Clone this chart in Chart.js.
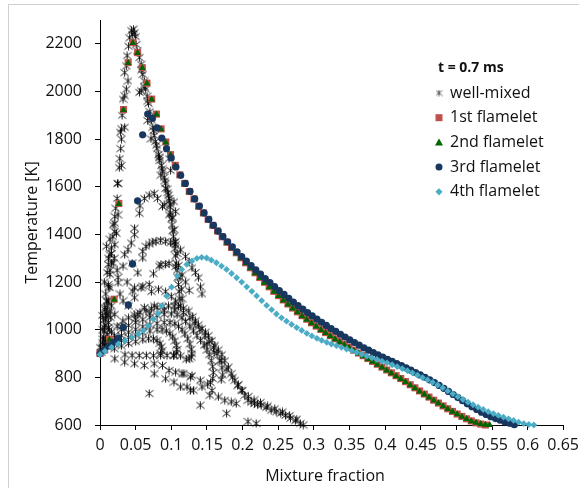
<!DOCTYPE html>
<html>
<head>
<meta charset="utf-8">
<script src="https://cdn.jsdelivr.net/npm/chart.js@4.4.1/dist/chart.umd.min.js"></script>
<style>
  html, body { margin: 0; padding: 0; background: #fff; overflow: hidden; }
  #marco { position: absolute; left: 8px; top: 4px; width: 600px; height: 500px; border: 1px solid #d0d0d0; box-sizing: border-box; }
  #lienzo { position: absolute; left: 0; top: 0; width: 579px; height: 488px; }
</style>
</head>
<body>
<div id="marco"></div>
<canvas id="lienzo" width="579" height="488"></canvas>
<script>
// Datos: [fraccion de mezcla, temperatura K]
const ticksX = [0, 0.05, 0.1, 0.15, 0.2, 0.25, 0.3, 0.35, 0.4, 0.45, 0.5, 0.55, 0.6, 0.65];
const ticksY = [600, 800, 1000, 1200, 1400, 1600, 1800, 2000, 2200];

const bienMezclado = [
  // subida hasta el pico
  [0.004,960],[0.006,1010],[0.008,1060],[0.010,1120],[0.012,1180],[0.014,1250],[0.016,1320],[0.018,1390],
  [0.0207,1475],[0.022,1510],[0.024,1551],[0.0253,1614],[0.027,1680],[0.0277,1718],[0.029,1760],[0.030,1800],
  [0.0286,1829],[0.030,1843],[0.0346,1850],[0.031,1900],[0.0323,1968],[0.0346,1982],[0.0369,2010],[0.0392,2044],
  [0.0346,2079],[0.0369,2107],[0.038,2150],[0.040,2190],[0.0415,2225],[0.0452,2239],[0.0484,2246],[0.047,2262],
  [0.0507,2197],[0.052,2170],[0.0553,2142],[0.044,2255],[0.050,2230],
  // bajada densa junto a los flamelets
  [0.0576,2114],[0.060,2072],[0.0622,2044],[0.064,2010],[0.066,1980],[0.068,1950],[0.070,1915],[0.072,1880],
  [0.074,1850],[0.076,1815],[0.078,1790],[0.080,1760],[0.082,1735],[0.084,1710],[0.086,1690],[0.088,1665],
  [0.090,1640],[0.092,1615],[0.094,1590],[0.096,1565],[0.097,1540],[0.098,1515],[0.099,1490],[0.100,1465],
  [0.101,1440],[0.102,1415],[0.103,1390],[0.104,1365],[0.105,1340],[0.106,1310],[0.107,1280],[0.108,1250],
  [0.109,1220],[0.110,1190],[0.111,1160],[0.112,1130],[0.113,1100],
  [0.058,2090],[0.062,2020],[0.067,1960],[0.071,1895],[0.075,1835],[0.079,1775],[0.083,1720],[0.087,1675],
  [0.091,1625],[0.095,1575],[0.099,1525],[0.102,1470],[0.104,1420],[0.106,1370],[0.108,1320],[0.110,1270],
  [0.112,1220],[0.114,1170],[0.115,1130],
  [0.0553,1996],[0.0576,2003],[0.0668,1878],[0.0715,1801],[0.083,1725],[0.0853,1649],[0.092,1593],[0.097,1551],
  [0.090,1524],[0.097,1482],[0.1037,1537],[0.106,1496],[0.0968,1718],[0.099,1669],
  // zona izquierda dispersa
  [0.030,1690],[0.0244,1614],[0.0253,1482],[0.0207,1447],[0.023,1405],[0.0184,1440],[0.0207,1412],[0.0207,1357],
  [0.0138,1315],[0.016,1343],[0.016,1280],[0.0115,1274],[0.0184,1280],[0.0138,1232],[0.0115,1190],[0.0253,1197],
  [0.0253,1220],[0.0138,1176],[0.0092,1121],[0.0069,1093],[0.0207,1065],[0.0323,1121],[0.0323,1267],[0.0346,1315],
  [0.0392,1336],[0.0438,1364],[0.0484,1399],[0.0484,1426],[0.0553,1489],[0.0599,1301],[0.053,1239],[0.0484,1176],
  [0.0576,1176],[0.0484,1134],[0.046,1162],[0.060,1183],[0.053,1065],[0.0622,1093],[0.076,1100],[0.008,1150],
  [0.006,1200],[0.010,1240],[0.012,1300],[0.009,1350],[0.014,1380],[0.020,1300],[0.024,1250],[0.028,1150],
  [0.040,1100],[0.038,1200],[0.045,1280],
  // arco ~1570
  [0.0622,1551],[0.069,1565],[0.076,1572],[0.0807,1551],[0.0876,1517],[0.056,1520],
  // arco ~1380
  [0.0599,1329],[0.0645,1350],[0.069,1360],[0.074,1368],[0.0784,1371],[0.085,1375],[0.092,1371],[0.099,1365],
  [0.106,1357],[0.113,1335],[0.1199,1308],[0.125,1285],[0.129,1260],[0.134,1240],[0.138,1218],[0.141,1180],[0.143,1150],
  // arco ~1280
  [0.069,1190],[0.075,1235],[0.083,1267],[0.0853,1274],[0.092,1274],[0.0968,1278],[0.106,1265],[0.115,1230],
  [0.120,1200],[0.125,1165],[0.072,1160],[0.082,1170],[0.092,1160],[0.100,1140],[0.106,1120],
  // columna izquierda densa
  [0.002,905],[0.003,925],[0.004,945],[0.005,970],[0.006,995],[0.007,1020],[0.008,1045],[0.009,1070],
  [0.010,1095],[0.011,1060],[0.012,1030],[0.013,1000],[0.014,1075],[0.015,1050],[0.016,1100],[0.006,935],
  [0.008,955],[0.010,980],[0.012,1010],[0.004,1000],[0.005,1040],[0.003,1060],[0.007,1085],[0.012,1120],
  // concha: arco exterior y cola
  [0,926],[0.008,960],[0.016,990],[0.024,1015],[0.032,1037],[0.040,1050],[0.048,1062],[0.056,1072],
  [0.0645,1079],[0.072,1088],[0.080,1094],[0.088,1098],[0.096,1100],[0.104,1100],[0.110,1098],[0.117,1090],
  [0.1245,1079],[0.130,1055],[0.134,1037],[0.138,1020],[0.143,1005],[0.148,990],[0.152,975],[0.157,955],
  [0.161,935],[0.166,915],[0.171,895],[0.175,870],[0.180,843],[0.184,815],[0.189,788],[0.193,765],
  [0.198,746],[0.203,725],[0.2075,704],[0.212,695],[0.2167,690],[0.221,686],[0.226,683],[0.233,673],
  [0.240,662],[0.247,655],[0.2535,649],[0.260,640],[0.267,628],[0.274,618],[0.281,607],[0.285,600],
  [0.150,940],[0.160,905],[0.170,870],[0.178,835],[0.186,800],[0.194,770],[0.200,745],[0.208,720],
  [0.216,705],[0.225,695],[0.235,680],[0.245,668],[0.256,655],[0.266,640],[0.276,625],
  [0.010,940],[0.030,1012],[0.050,1045],[0.070,1070],[0.090,1082],[0.105,1083],[0.117,1072],[0.126,1050],
  [0.133,1025],[0.140,1000],[0.147,975],[0.153,950],[0.159,925],[0.164,900],[0.168,870],[0.171,840],
  [0.172,810],[0.170,790],
  // arcos internos con gancho
  [0.010,945],[0.020,975],[0.030,1000],[0.040,1018],[0.050,1030],[0.060,1042],[0.070,1052],[0.080,1060],
  [0.090,1065],[0.100,1066],[0.108,1062],[0.115,1050],[0.120,1035],[0.126,1015],[0.131,995],[0.136,975],
  [0.141,955],[0.146,935],[0.150,915],[0.153,895],[0.156,870],[0.158,845],[0.159,820],[0.158,795],
  [0.155,778],[0.151,772],
  [0.010,930],[0.020,955],[0.030,975],[0.040,990],[0.050,1002],[0.060,1012],[0.070,1020],[0.080,1027],
  [0.090,1030],[0.098,1030],[0.105,1025],[0.110,1015],[0.115,1000],[0.119,982],[0.123,962],[0.126,940],
  [0.128,918],[0.129,899],[0.128,885],[0.125,878],[0.121,876],
  [0.020,940],[0.030,955],[0.040,968],[0.050,978],[0.060,988],[0.070,995],[0.080,1000],[0.087,1000],
  [0.093,995],[0.098,985],[0.102,970],[0.105,953],[0.107,935],[0.108,917],[0.107,902],[0.104,893],
  [0.020,920],[0.030,932],[0.040,942],[0.050,950],[0.060,958],[0.068,962],[0.075,962],[0.080,955],
  [0.084,943],[0.086,928],[0.087,912],[0.085,900],
  [0.035,895],[0.045,893],[0.055,892],[0.065,892],[0.075,891],[0.085,892],[0.094,892],[0.103,891],[0.113,890],
  // banda inferior
  [0.0207,878],[0.0346,864],[0.0484,857],[0.0622,850],[0.076,857],[0.0876,850],[0.0968,829],[0.106,822],
  [0.1176,815],[0.127,801],[0.1406,788],[0.076,815],[0.092,794],[0.1037,780],[0.113,760],[0.127,746],
  [0.069,732],[0.1406,683],[0.154,725],[0.166,718],[0.175,704],[0.184,697],[0.191,690],[0.1775,649],
  [0.2075,614],[0.219,607],[0.122,760],[0.131,746],[0.143,760],[0.157,745],[0.115,815],[0.129,808]
];

const flamelet1 = [
  [0,900],[0.0066,915],[0.0132,960],[0.0198,1128],[0.0264,1530],[0.033,1924],[0.0395,2121],[0.0461,2205],
  [0.0527,2163],[0.0593,2100],[0.0659,2035],[0.0725,1968],[0.0791,1905],[0.0857,1843],[0.0923,1788],[0.0989,1735],
  [0.1055,1690],[0.112,1650],[0.1186,1614],[0.1252,1580],[0.1318,1549],[0.1384,1518],[0.145,1490],[0.1516,1463],
  [0.1582,1438],[0.1648,1414],[0.1714,1390],[0.178,1367],[0.1845,1345],[0.1911,1323],[0.1977,1302],[0.2043,1281],
  [0.2109,1260],[0.2175,1239],[0.2241,1219],[0.2307,1199],[0.2373,1180],[0.2439,1161],[0.2505,1143],[0.257,1125],
  [0.2636,1108],[0.2702,1091],[0.2768,1075],[0.2834,1059],[0.29,1044],[0.2966,1029],[0.3032,1015],[0.3098,1001],
  [0.3164,988],[0.323,975],[0.3296,962],[0.3361,950],[0.3427,938],[0.3493,926],[0.3559,914],[0.3625,902],
  [0.3691,891],[0.3757,879],[0.3823,867],[0.3889,855],[0.3955,843],[0.4021,831],[0.4086,819],[0.4152,807],
  [0.4218,795],[0.4284,782],[0.435,769],[0.4416,756],[0.4482,743],[0.4548,730],[0.4614,717],[0.468,704],
  [0.4746,692],[0.4811,680],[0.4877,668],[0.4943,657],[0.5009,646],[0.5075,636],[0.5141,626],[0.5207,617],
  [0.5273,609],[0.5339,604],[0.5405,600]
];

const flamelet2 = [
  [0,900],[0.0066,915],[0.0132,958],[0.0198,1126],[0.0264,1528],[0.033,1922],[0.0395,2119],[0.0461,2203],
  [0.0527,2161],[0.0593,2098],[0.0659,2033],[0.0725,1966],[0.0791,1903],[0.0857,1841],[0.0923,1786],[0.0989,1733],
  [0.1055,1688],[0.112,1648],[0.1186,1612],[0.1252,1578],[0.1318,1547],[0.1384,1516],[0.145,1488],[0.1516,1461],
  [0.1582,1436],[0.1648,1412],[0.1714,1388],[0.178,1365],[0.1845,1343],[0.1911,1321],[0.1977,1300],[0.2043,1279],
  [0.2109,1258],[0.2175,1237],[0.2241,1217],[0.2307,1197],[0.2373,1178],[0.2439,1159],[0.2505,1141],[0.257,1123],
  [0.2636,1106],[0.2702,1089],[0.2768,1073],[0.2834,1057],[0.29,1042],[0.2966,1027],[0.3032,1013],[0.3098,999],
  [0.3164,986],[0.323,973],[0.3296,960],[0.3361,948],[0.3427,936],[0.3493,924],[0.3559,912],[0.3625,900],
  [0.3691,889],[0.3757,877],[0.3823,865],[0.3889,853],[0.3955,841],[0.4021,829],[0.4086,817],[0.4152,805],
  [0.4218,793],[0.4284,780],[0.435,767],[0.4416,754],[0.4482,741],[0.4548,728],[0.4614,715],[0.468,703],
  [0.4746,691],[0.4811,679],[0.4877,667],[0.4943,656],[0.5009,645],[0.5075,635],[0.5141,625],[0.5207,616],
  [0.5273,609],[0.5339,604],[0.5405,601],[0.5465,600]
];

const flamelet3 = [
  [0,900],[0.0061,915],[0.0127,932],[0.0193,948],[0.0257,965],[0.0328,1010],[0.0397,1104],[0.0456,1276],
  [0.0527,1541],[0.0598,1818],[0.0669,1905],[0.0735,1887],[0.0801,1847],[0.0867,1804],[0.0933,1760],[0.0999,1721],
  [0.1065,1683],[0.1131,1648],[0.1197,1614],[0.1262,1581],[0.1328,1549],[0.1394,1519],[0.146,1490],[0.1526,1463],
  [0.1592,1438],[0.1658,1414],[0.1724,1391],[0.179,1369],[0.1856,1348],[0.1922,1327],[0.1987,1307],[0.2053,1288],
  [0.2119,1269],[0.2185,1251],[0.2251,1233],[0.2317,1215],[0.2383,1198],[0.2449,1181],[0.2515,1164],[0.2581,1148],
  [0.2647,1132],[0.2712,1116],[0.2778,1101],[0.2844,1086],[0.291,1072],[0.2976,1058],[0.3042,1044],[0.3108,1031],
  [0.3174,1018],[0.324,1005],[0.3306,993],[0.3372,981],[0.3437,969],[0.3503,957],[0.3569,946],[0.3635,935],
  [0.3701,924],[0.3767,914],[0.3833,904],[0.3899,894],[0.3965,885],[0.4031,876],[0.4097,867],[0.4162,858],
  [0.4228,849],[0.4294,840],[0.436,830],[0.4426,820],[0.4492,810],[0.4558,800],[0.4624,789],[0.469,778],
  [0.4756,766],[0.4822,754],[0.4887,741],[0.4953,728],[0.5019,715],[0.5085,702],[0.5151,689],[0.5217,677],
  [0.5283,665],[0.5349,654],[0.5415,644],[0.5481,635],[0.5547,627],[0.5612,620],[0.5678,613],[0.5744,607],[0.581,601]
];

const flamelet4 = [
  [0,896],[0.007,910],[0.0162,926],[0.0257,940],[0.0351,954],[0.0444,968],[0.0537,982],[0.0608,996],
  [0.0677,1017],[0.0747,1045],[0.0818,1068],[0.0865,1100],[0.0933,1142],[0.1004,1179],[0.1085,1225],[0.1146,1253],
  [0.1217,1274],[0.1288,1288],[0.1359,1299],[0.1426,1304],[0.1496,1301],[0.1562,1292],[0.1633,1281],[0.1704,1267],
  [0.1775,1253],[0.1845,1236],[0.1916,1218],[0.1987,1200],[0.2058,1180],[0.2129,1161],[0.2197,1142],[0.2267,1122],
  [0.2337,1102],[0.2407,1084],[0.2474,1066],[0.2545,1050],[0.2616,1036],[0.2687,1022],[0.2758,1009],[0.2829,997],
  [0.29,985],[0.2971,974],[0.3042,964],[0.3109,955],[0.3179,947],[0.3245,940],[0.3316,933],[0.3387,926],
  [0.3458,919],[0.3529,912],[0.36,905],[0.3671,897],[0.3742,889],[0.3813,882],[0.3884,875],[0.3955,868],
  [0.4026,861],[0.4097,853],[0.4168,845],[0.4239,837],[0.431,828],[0.438,819],[0.4451,809],[0.4522,799],
  [0.4593,789],[0.4664,779],[0.4735,768],[0.4806,756],[0.4877,743],[0.4948,731],[0.5019,719],[0.509,707],
  [0.5161,696],[0.5232,685],[0.5303,675],[0.5374,665],[0.5445,656],[0.5516,648],[0.5587,640],[0.5658,633],
  [0.5729,626],[0.58,619],[0.5871,612],[0.5942,606],[0.6013,602],[0.6084,600]
];

const nombres = ['well-mixed', '1st flamelet', '2nd flamelet', '3rd flamelet', '4th flamelet'];
const tituloLeyenda = 't = 0.7 ms';
const tituloX = 'Mixture fraction';
const tituloY = 'Temperature [K]';

const colores = ['#1a1a1a', '#C0504D', '#006400', '#17375E', '#4BACC6'];

// Asterisco tipo Excel (X + linea vertical)
function crearAsterisco(tam, color, grosor) {
  const c = document.createElement('canvas');
  c.width = tam; c.height = tam;
  const ctx = c.getContext('2d');
  ctx.strokeStyle = color;
  ctx.lineWidth = grosor;
  const m = tam / 2, r = tam / 2 - 0.5;
  ctx.beginPath();
  ctx.moveTo(m - r, m - r * 0.8); ctx.lineTo(m + r, m + r * 0.8);
  ctx.moveTo(m + r, m - r * 0.8); ctx.lineTo(m - r, m + r * 0.8);
  ctx.moveTo(m, m - r); ctx.lineTo(m, m + r);
  ctx.stroke();
  return c;
}

const asterisco = crearAsterisco(9, 'rgba(0,0,0,0.9)', 1);
const asteriscoLeyenda = crearAsterisco(7, 'rgba(60,60,60,0.9)', 1);

const aPuntos = arr => arr.map(p => ({ x: p[0], y: p[1] }));

function dibujarMarca(ctx, tipo, x, y, color) {
  ctx.fillStyle = color;
  ctx.beginPath();
  if (tipo === 'star') {
    ctx.drawImage(asteriscoLeyenda, x - 3.5, y - 3.5);
    return;
  } else if (tipo === 'rect') {
    ctx.rect(x - 3.5, y - 3.5, 7, 7);
  } else if (tipo === 'triangle') {
    ctx.moveTo(x, y - 4); ctx.lineTo(x + 4, y + 3); ctx.lineTo(x - 4, y + 3); ctx.closePath();
  } else if (tipo === 'circle') {
    ctx.arc(x, y, 3.5, 0, Math.PI * 2);
  } else if (tipo === 'rectRot') {
    ctx.moveTo(x, y - 3.6); ctx.lineTo(x + 3.6, y); ctx.lineTo(x, y + 3.6); ctx.lineTo(x - 3.6, y); ctx.closePath();
  }
  ctx.fill();
}

const marcas = ['star', 'rect', 'triangle', 'circle', 'rectRot'];

// leyenda dentro del area, titulo del eje x y ultima etiqueta del eje x
const leyenda = {
  id: 'leyenda',
  afterDraw(chart) {
    const ctx = chart.ctx;
    const xs = chart.scales.x;
    ctx.save();
    ctx.textBaseline = 'middle';
    ctx.textAlign = 'left';
    ctx.fillStyle = '#111';
    ctx.font = "bold 14px 'Open Sans'";
    ctx.fillText(tituloLeyenda, 438, 68);
    ctx.font = "16px 'Open Sans'";
    nombres.forEach((n, i) => {
      const y = 93 + i * 24.7;
      dibujarMarca(ctx, marcas[i], 439, y, colores[i]);
      ctx.fillStyle = '#111';
      ctx.fillText(n, 450, y);
    });
    ctx.fillStyle = '#111';
    ctx.textAlign = 'right';
    const ultimo = ticksX[ticksX.length - 1];
    ctx.fillText(String(ultimo), 579, xs.top + 20);
    ctx.textAlign = 'center';
    ctx.fillText(tituloX, 325, 476);
    ctx.restore();
  }
};

Chart.defaults.font.family = "'Open Sans', sans-serif";
Chart.defaults.font.size = 16;
Chart.defaults.color = '#111';

const serie = (datos, i, estilo, radio, orden) => ({
  label: nombres[i],
  data: aPuntos(datos),
  pointStyle: estilo,
  pointRadius: radio,
  backgroundColor: colores[i],
  borderColor: colores[i],
  borderWidth: 0,
  showLine: false,
  clip: false,
  order: orden
});

const grafico = new Chart(document.getElementById('lienzo'), {
  type: 'scatter',
  data: {
    datasets: [
      serie(bienMezclado, 0, asterisco, 4, 4),
      serie(flamelet1, 1, 'rect', 5, 3),
      serie(flamelet2, 2, 'triangle', 4, 2),
      serie(flamelet3, 3, 'circle', 3.6, 1),
      serie(flamelet4, 4, 'rectRot', 3.4, 0)
    ]
  },
  options: {
    responsive: false,
    animation: false,
    events: [],
    layout: { padding: { top: 20, right: 15.5, bottom: 0, left: 0 } },
    plugins: { legend: { display: false }, tooltip: { enabled: false } },
    scales: {
      x: {
        type: 'linear',
        min: ticksX[0],
        max: ticksX[ticksX.length - 1],
        afterFit: s => { s.height = 63; s.paddingLeft = 0; s.paddingRight = 0; },
        afterBuildTicks: s => { s.ticks = ticksX.map(v => ({ value: v })); },
        ticks: {
          padding: 6, maxRotation: 0, autoSkip: false,
          callback: v => v === ticksX[ticksX.length - 1] ? '' : String(Math.round(v * 100) / 100)
        },
        grid: { drawOnChartArea: false, drawTicks: true, tickLength: 5, tickColor: '#000', color: '#000' },
        border: { display: true, color: '#000', width: 1 },
        title: { display: false }
      },
      y: {
        min: 600,
        max: 2300,
        afterFit: s => { s.width = 100; s.paddingTop = 0; s.paddingBottom = 0; },
        afterBuildTicks: s => { s.ticks = ticksY.map(v => ({ value: v })); },
        ticks: { padding: 13, autoSkip: false, callback: v => String(v) },
        grid: { drawOnChartArea: false, drawTicks: true, tickLength: 5, tickColor: '#000', color: '#000' },
        border: { display: true, color: '#000', width: 1 },
        title: { display: true, text: tituloY, padding: { top: 23, bottom: 0 } }
      }
    }
  },
  plugins: [leyenda]
});
</script>
</body>
</html>
